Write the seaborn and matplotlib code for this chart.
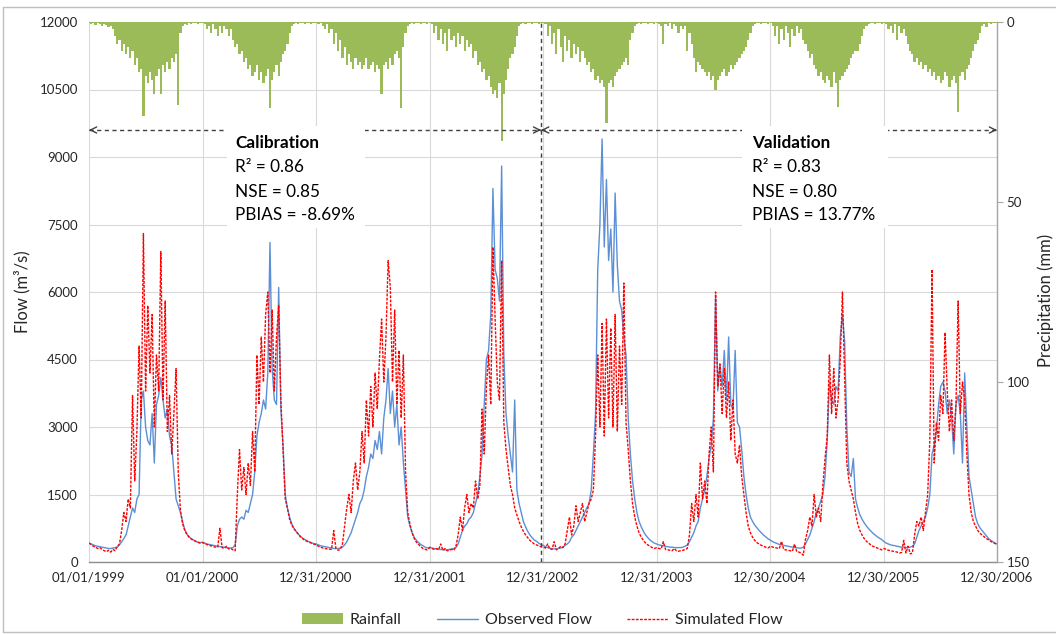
import numpy as np
import pandas as pd
import matplotlib
matplotlib.use("Agg")
import matplotlib.pyplot as plt
import matplotlib.dates as mdates
import seaborn as sns
from matplotlib.patches import Patch, Rectangle
from matplotlib.lines import Line2D

# ---------------- data (weekly samples) ----------------
years = [1999, 2000, 2001, 2002, 2003, 2004, 2005, 2006]

obs_1999 = [420, 400, 380, 360, 350, 340, 330, 320, 310, 300,
            300, 310, 320, 330, 380, 450, 520, 600, 800, 1000,
            1200, 1100, 1400, 1500, 3600, 3800, 3000, 2700, 2600, 3300,
            2200, 3500, 3700, 4100, 3600, 3200, 3400, 2800, 2600, 2000,
            1400, 1250, 1100, 900, 720, 620, 560, 520, 490, 460, 440, 430]
sim_1999 = [420, 390, 350, 330, 300, 320, 280, 250, 230, 260,
            220, 280, 250, 350, 400, 700, 1100, 900, 1400, 1200,
            3700, 1800, 2900, 4800, 3200, 7300, 3800, 5700, 4200, 5500,
            3000, 4600, 3800, 6900, 3600, 5800, 2900, 3700, 2400, 3300,
            4300, 2000, 1150, 850, 700, 610, 550, 510, 480, 460, 440, 420]

obs_2000 = [440, 420, 400, 390, 380, 370, 360, 350, 340, 335,
            330, 320, 315, 310, 320, 380, 800, 950, 1000, 950,
            1150, 1100, 1300, 1500, 2000, 2800, 3100, 3300, 3600, 3400,
            4200, 7100, 4300, 3600, 3500, 6100, 3400, 2600, 1500, 1200,
            1000, 850, 750, 680, 620, 570, 530, 500, 470, 450, 430, 410]
sim_2000 = [430, 410, 390, 370, 360, 340, 330, 330, 750, 320,
            300, 350, 290, 300, 270, 250, 1500, 2500, 1600, 2100,
            1500, 2200, 1700, 2900, 2000, 4600, 3500, 5000, 4000, 5500,
            6000, 4200, 5600, 3800, 5000, 5700, 3600, 2500, 1400, 1200,
            950, 820, 740, 680, 620, 560, 520, 480, 460, 440, 420, 400]

obs_2001 = [400, 380, 360, 350, 340, 330, 320, 310, 300, 300,
            300, 310, 330, 380, 450, 550, 650, 800, 950, 1100,
            1300, 1400, 1600, 1900, 2100, 2400, 2300, 2700, 2500, 2900,
            2400, 3200, 3600, 4300, 3300, 3800, 3000, 3500, 2600, 3000,
            2200, 1600, 1000, 800, 650, 550, 480, 430, 390, 360, 330, 310]
sim_2001 = [380, 350, 330, 310, 300, 290, 285, 280, 700, 300,
            260, 280, 400, 800, 1200, 1500, 1100, 1800, 2200, 1600,
            2000, 2900, 2200, 3600, 2800, 3900, 3000, 4200, 3400, 4500,
            5400, 4000, 5000, 6700, 6100, 4000, 5600, 3500, 4700, 3200,
            4600, 2000, 1100, 850, 650, 520, 440, 390, 340, 300, 280, 270]

obs_2002 = [330, 310, 300, 290, 280, 280, 270, 270, 270, 280,
            290, 300, 320, 400, 550, 700, 800, 850, 950, 1000,
            1100, 1300, 1500, 1900, 2400, 3500, 4500, 4700, 5500, 8300,
            6500, 6300, 5800, 8800, 4600, 3300, 2800, 2400, 2000, 3600,
            1600, 1300, 1100, 900, 780, 680, 600, 540, 490, 460, 420, 390]
sim_2002 = [320, 300, 280, 300, 270, 400, 260, 300, 250, 260,
            280, 260, 350, 600, 1000, 700, 1200, 1500, 1100, 1300,
            1200, 1800, 1400, 1700, 3400, 2400, 3900, 4600, 3500, 7000,
            5400, 4000, 3600, 6700, 3100, 2500, 2100, 1700, 1500, 1200,
            1050, 900, 780, 680, 600, 540, 480, 440, 400, 380, 360, 340]

obs_2003 = [370, 340, 320, 305, 295, 290, 290, 300, 310, 330,
            370, 400, 450, 550, 600, 700, 800, 900, 1000, 1100,
            1200, 1300, 1600, 2400, 3300, 6500, 7500, 9400, 7000, 8500,
            6700, 7400, 6000, 8200, 6600, 5800, 5600, 5000, 4600, 3200,
            2400, 1800, 1400, 1100, 900, 780, 680, 600, 540, 490, 450, 420]
sim_2003 = [330, 310, 400, 290, 280, 450, 270, 300, 350, 320,
            400, 700, 1000, 600, 800, 1250, 900, 1100, 1300, 900,
            1100, 1300, 1400, 1600, 2800, 4600, 3000, 5300, 2800, 5400,
            3200, 5200, 3000, 5500, 2900, 4800, 3500, 6200, 3100, 2500,
            1800, 1300, 1000, 800, 650, 550, 480, 420, 380, 350, 320, 300]

obs_2004 = [400, 380, 370, 360, 350, 340, 330, 330, 320, 320,
            320, 320, 330, 350, 380, 450, 550, 650, 800, 900,
            1200, 1400, 1600, 1900, 2300, 2600, 3200, 5900, 3800, 4400,
            3900, 4700, 3600, 5000, 3500, 3400, 4700, 3100, 3000, 2500,
            1900, 1500, 1200, 1000, 900, 820, 760, 700, 650, 600, 560, 520]
sim_2004 = [320, 300, 290, 450, 280, 270, 260, 250, 300, 250,
            240, 250, 260, 280, 300, 600, 1300, 900, 1500, 1000,
            2200, 1400, 1800, 1300, 2400, 3000, 2000, 6000, 3900, 4400,
            3300, 4300, 3200, 4000, 2700, 3600, 2400, 2200, 2600, 1900,
            1500, 1100, 800, 650, 550, 480, 430, 400, 370, 350, 330, 310]

obs_2005 = [480, 450, 430, 410, 390, 380, 370, 360, 350, 340,
            330, 320, 315, 310, 310, 330, 400, 500, 600, 750,
            900, 1100, 1200, 1350, 1500, 1900, 2700, 4000, 3600, 3500,
            3900, 3800, 5000, 5500, 4900, 3000, 2000, 1900, 2300, 1400,
            1200, 1050, 950, 870, 800, 740, 690, 640, 600, 560, 530, 500]
sim_2005 = [350, 330, 320, 310, 300, 460, 280, 270, 260, 250,
            240, 400, 230, 220, 200, 150, 500, 700, 1000, 800,
            1500, 1000, 1200, 900, 1700, 2300, 2800, 4600, 3300, 4300,
            3200, 3600, 4500, 6000, 4100, 2200, 1800, 1600, 1400, 1100,
            850, 700, 600, 520, 460, 420, 380, 350, 330, 310, 290, 270]

obs_2006 = [450, 420, 400, 380, 370, 360, 350, 340, 330, 330,
            320, 320, 330, 350, 400, 550, 700, 800, 900, 1000,
            1200, 1500, 2400, 2600, 2900, 3500, 3900, 4000, 3800, 3300,
            3600, 3200, 2400, 3500, 3700, 3300, 2200, 4200, 3000, 1900,
            1600, 1300, 1000, 850, 760, 700, 640, 580, 520, 480, 450, 420, 400]
sim_2006 = [300, 280, 260, 250, 240, 230, 220, 200, 210, 480,
            200, 350, 180, 200, 600, 900, 800, 1000, 700, 1100,
            1500, 2700, 6500, 2200, 3100, 2700, 3700, 3300, 5100, 3800,
            2900, 3600, 2700, 3500, 5800, 3300, 4000, 3600, 2400, 1500,
            1100, 900, 800, 700, 640, 600, 560, 520, 490, 460, 430, 410, 390]

rain_1999 = [0.3, 0.5, 0.3, 0.8, 0.3, 0.5, 1, 0.5, 0.8, 1.5, 1, 2,
             4, 6, 5, 8, 6, 9, 7, 10, 8,
             12, 10, 14, 13, 26, 15, 17, 14, 16, 20,
             15, 13, 20, 12, 14, 11, 13, 10, 11, 9, 23,
             3, 1, 0.5, 0.8, 0.3, 0.5, 0.3, 0.3, 0.5, 0.3]
rain_2000 = [0.3, 0.5, 2, 1, 3, 0.5, 2, 4, 1, 3, 1, 2, 4, 2,
             5, 7, 6, 9, 8, 11, 10, 13, 12, 15, 14, 12, 16, 14, 17, 15, 13, 24, 16, 14,
             12, 15, 11, 9, 8, 6,
             3, 1, 0.5, 0.3, 0.5, 0.3, 0.3, 0.5, 0.3, 0.3, 0.5, 0.3]
rain_2001 = [0.3, 0.5, 0.3, 1, 2, 0.5, 3, 2, 6, 3, 8,
             5, 10, 7, 12, 9, 11, 13, 10, 12, 11, 13, 12, 10, 13, 12, 11, 14, 12, 13, 20,
             12, 11, 13, 10, 12,
             9, 8, 10, 24, 7, 3, 1,
             0.5, 0.3, 0.5, 0.3, 0.3, 0.5, 0.3, 0.3, 0.5]
rain_2002 = [0.3, 0.5, 3, 1, 5, 2, 6, 3, 8, 2, 5, 4, 7, 3, 6, 4, 8, 5, 7, 6,
             10, 8, 12, 11, 14, 13, 16, 15, 18, 20, 19, 21, 17, 33, 20, 16, 13, 10, 9, 7, 4,
             1, 0.5, 0.3, 0.5, 0.3, 0.3, 0.5, 0.3, 0.3, 0.5, 0.3]
rain_2003 = [0.3, 0.5, 4, 1, 6, 3, 9, 2, 7, 11, 4, 8, 5, 10, 6, 9, 7, 11, 8, 10,
             12, 11, 14, 13, 16, 15, 17, 16, 18, 28, 17, 16, 18, 15, 14, 13, 12, 11, 10, 12,
             5, 3, 1, 0.5, 0.3, 0.5, 0.3, 0.3, 0.5, 0.3, 0.3, 0.5]
rain_2004 = [0.3, 0.5, 1, 6, 0.5, 1, 0.3, 2, 0.5, 1, 3, 1, 2, 1, 8, 3,
             6, 10, 14, 11, 12, 13, 14, 15, 14, 16, 15, 19, 16, 15, 14, 13, 15, 14, 12, 13,
             12, 11, 10, 9, 8, 7, 5, 3,
             1, 0.5, 0.3, 0.3, 0.5, 0.3, 0.3, 0.5]
rain_2005 = [0.3, 1, 4, 1, 6, 2, 5, 1, 3, 7, 2, 4, 1, 3, 2, 5,
             6, 8, 10, 9, 12, 13, 15, 14, 16, 17, 15, 16, 18, 14, 17, 23.5, 16, 15, 14, 13,
             12, 10, 9, 8, 8, 6, 4, 2, 1,
             0.5, 0.3, 0.3, 0.5, 0.3, 0.3, 0.5]
rain_2006 = [0.3, 0.5, 2, 1, 3, 0.5, 5, 1, 3, 2, 4,
             6, 8, 9, 11, 10, 12, 11, 13, 12, 14, 13, 15, 14, 16, 15, 17, 16, 14, 15, 18,
             16, 15, 17, 25, 15, 14, 16, 13, 12, 10, 8, 6, 5,
             3, 1, 0.5, 1.5, 0.3, 0.5, 0.3, 0.3, 0.3]

x_tick_labels = ["01/01/1999", "01/01/2000", "12/31/2000", "12/31/2001", "12/31/2002",
                 "12/31/2003", "12/30/2004", "12/30/2005", "12/30/2006"]
flow_ticks = [0, 1500, 3000, 4500, 6000, 7500, 9000, 10500, 12000]
rain_ticks = [0, 50, 100, 150]
calib_lines = ["Calibration", "R² = 0.86", "NSE = 0.85", "PBIAS = -8.69%"]
valid_lines = ["Validation", "R² = 0.83", "NSE = 0.80", "PBIAS = 13.77%"]

obs_by_year = dict(zip(years, [obs_1999, obs_2000, obs_2001, obs_2002, obs_2003, obs_2004, obs_2005, obs_2006]))
sim_by_year = dict(zip(years, [sim_1999, sim_2000, sim_2001, sim_2002, sim_2003, sim_2004, sim_2005, sim_2006]))
rain_by_year = dict(zip(years, [rain_1999, rain_2000, rain_2001, rain_2002, rain_2003, rain_2004, rain_2005, rain_2006]))


def weekly(year, vals, name):
    d = pd.Timestamp(f"{year}-01-01") + pd.to_timedelta(7 * np.arange(len(vals)), unit="D")
    return pd.DataFrame({"date": d, name: vals})


obs_df = pd.concat([weekly(y, obs_by_year[y], "flow") for y in years], ignore_index=True)
sim_df = pd.concat([weekly(y, sim_by_year[y], "flow") for y in years], ignore_index=True)
rain_df = pd.concat([weekly(y, rain_by_year[y], "rain") for y in years], ignore_index=True)

# ---------------- style ----------------
sns.set_style("white")
plt.rcParams["font.family"] = ["Lato", "DejaVu Sans"]

GREEN = "#9BBB59"
BLUE = "#5B8FD6"
RED = "#FF0000"
GRID = "#D9D9D9"
AXIS = "#A6A6A6"
DARK = "#404040"
TXT = "#262626"

W, H = 1056, 634
fig = plt.figure(figsize=(W / 100, H / 100), dpi=100, facecolor="white")
L, R, T, B = 89, 997, 22, 562
ax = fig.add_axes([L / W, 1 - B / H, (R - L) / W, (B - T) / H])


def ax_fx(px):
    return (px - L) / (R - L)


def ax_fy(py):
    return (B - py) / (B - T)


# flows
sns.lineplot(data=obs_df, x="date", y="flow", ax=ax, color=BLUE, lw=1.0, legend=False)
sns.lineplot(data=sim_df, x="date", y="flow", ax=ax, color=RED, lw=1.0,
             linestyle=(0, (2.0, 1.0)), legend=False)

start = pd.Timestamp("1999-01-01")
end = pd.Timestamp("2006-12-30")
tick_dates = [start + pd.Timedelta(days=365 * k) for k in range(len(x_tick_labels))]
ax.set_xlim(start, end)
ax.set_ylim(0, 12000)
ax.set_xticks(tick_dates)
ax.set_xticklabels(x_tick_labels)
ax.set_yticks(flow_ticks)
ax.set_yticklabels([str(v) for v in flow_ticks])
ax.set_xlabel("")
ax.set_ylabel("")
ax.grid(True, color=GRID, lw=0.8)
ax.set_axisbelow(True)
for s in ["top", "right", "left"]:
    ax.spines[s].set_visible(False)
ax.spines["bottom"].set_color("#8C8C8C")
ax.spines["bottom"].set_linewidth(1.0)
ax.tick_params(axis="x", direction="out", length=4, width=0.8, color="#8C8C8C",
               labelsize=9.5, pad=3, labelcolor=TXT)
ax.tick_params(axis="y", length=0, pad=8, labelsize=9.5, labelcolor=TXT)

# rainfall on inverted secondary axis
ax2 = ax.twinx()
ax2.bar(rain_df["date"], rain_df["rain"], width=7.2, color=GREEN, linewidth=0, align="center")
ax2.set_ylim(150, 0)
ax2.set_yticks(rain_ticks)
ax2.set_yticklabels([str(v) for v in rain_ticks])
for s in ["top", "left", "bottom"]:
    ax2.spines[s].set_visible(False)
ax2.spines["right"].set_color(AXIS)
ax2.spines["right"].set_linewidth(1.0)
ax2.tick_params(axis="y", direction="out", length=4, width=0.8, color=AXIS,
                labelsize=9.5, pad=3, labelcolor=TXT)
ax2.set_ylabel("")

# split line and period arrows
split_date = pd.Timestamp("2002-12-25")
split_num = mdates.date2num(split_date)
start_num = mdates.date2num(start)
end_num = mdates.date2num(end)
ax2.axvline(split_date, color=DARK, lw=1.0, ls=(0, (3, 2.5)), zorder=2)
blend = matplotlib.transforms.blended_transform_factory(ax2.transData, ax2.transAxes)
arrow_y = ax_fy(130)
for a, b in [(start_num, split_num), (split_num, end_num)]:
    ax2.plot([a, b], [arrow_y, arrow_y], transform=blend, color=DARK, lw=1.0,
             ls=(0, (3, 2.5)), zorder=2, clip_on=False)
    for tip, tail in [(a, a + 8), (b, b - 8)]:
        ax2.annotate("", xy=(tip, arrow_y), xytext=(tail, arrow_y),
                     xycoords=blend, textcoords=blend,
                     arrowprops=dict(arrowstyle="->", color=DARK, lw=1.0,
                                     shrinkA=0, shrinkB=0, mutation_scale=11),
                     zorder=2, annotation_clip=False)

# white boxes behind the statistics
for x0, x1 in [(227, 365), (742, 888)]:
    ax2.add_patch(Rectangle((ax_fx(x0), ax_fy(228)), ax_fx(x1) - ax_fx(x0), ax_fy(126) - ax_fy(228),
                            transform=ax2.transAxes, facecolor="white", edgecolor="none", zorder=3))

baselines = [148, 172, 197, 220]
for lines, x0 in [(calib_lines, 235), (valid_lines, 752)]:
    for i, (txt, yb) in enumerate(zip(lines, baselines)):
        ax2.text(ax_fx(x0), ax_fy(yb), txt, transform=ax2.transAxes, ha="left", va="baseline",
                 fontsize=12.3, color="black", fontweight="bold" if i == 0 else "normal", zorder=4)

# axis titles
fig.text(22 / W, 1 - 292 / H, "Flow (m³/s)", rotation=90, ha="center", va="center",
         fontsize=12, color=TXT)
fig.text(1046 / W, 1 - 300 / H, "Precipitation (mm)", rotation=90, ha="center", va="center",
         fontsize=12, color=TXT)

# legend
handles = [Patch(facecolor=GREEN, edgecolor="none"),
           Line2D([], [], color=BLUE, lw=1.0),
           Line2D([], [], color=RED, lw=1.0, ls=(0, (2.0, 1.0)))]
fig.legend(handles, ["Rainfall", "Observed Flow", "Simulated Flow"], loc="center",
           bbox_to_anchor=(542 / W, 1 - 620 / H), ncol=3, frameon=False, fontsize=11.5,
           handlelength=2.6, handletextpad=0.4, columnspacing=2.2, labelcolor=TXT)

# outer frame
frame_kw = dict(transform=fig.transFigure, color="#BFBFBF", lw=1.0)
fig.add_artist(Line2D([3 / W, 1.0], [1 - 7 / H, 1 - 7 / H], **frame_kw))
fig.add_artist(Line2D([3 / W, 3 / W], [1 - 7 / H, 1 - 632 / H], **frame_kw))
fig.add_artist(Line2D([3 / W, 1.0], [1 - 632 / H, 1 - 632 / H], **frame_kw))

fig.savefig("out.png", dpi=100, facecolor="white")
